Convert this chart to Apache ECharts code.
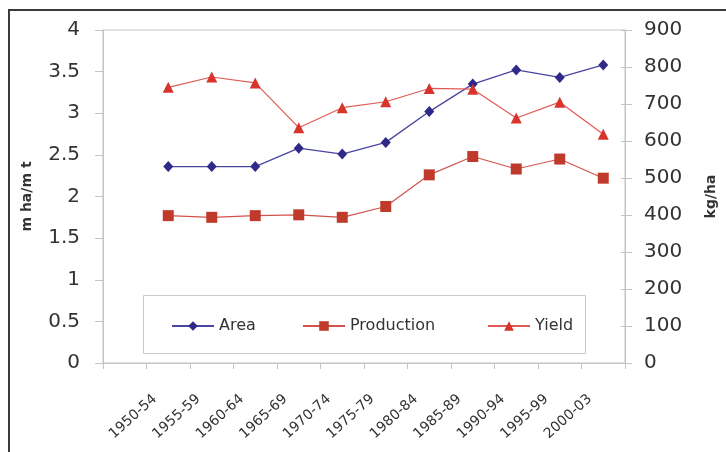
<!DOCTYPE html>
<html>
<head>
<meta charset="utf-8">
<script src="https://cdn.jsdelivr.net/npm/echarts@6/dist/echarts.min.js"></script>
<style>
  html, body { margin: 0; padding: 0; background: #fff; }
  #chart { width: 726px; height: 452px; }
</style>
</head>
<body>
<div id="chart"></div>
<script>
// Five-year periods on the category axis
const periods = ['1950-54', '1955-59', '1960-64', '1965-69', '1970-74', '1975-79',
                 '1980-84', '1985-89', '1990-94', '1995-99', '2000-03'];
// Area (m ha) and production (m t), left axis
const area = [2.36, 2.36, 2.36, 2.58, 2.51, 2.65, 3.02, 3.35, 3.52, 3.43, 3.58];
const production = [1.77, 1.75, 1.77, 1.78, 1.75, 1.88, 2.26, 2.48, 2.33, 2.45, 2.22];
// Yield (kg/ha), right axis
const yieldKg = [745, 773, 757, 636, 690, 706, 742, 740, 662, 705, 618];

// Left and right axis ticks
const leftTicks = { min: 0, max: 4, interval: 0.5 };
const rightTicks = { min: 0, max: 900, interval: 100 };

// The axis starts with one empty slot before the first period
const categories = [''].concat(periods);
const withLead = arr => [null].concat(arr);

const FONT = 'DejaVu Sans';
const AXIS_GRAY = '#c4c4c4';
const TEXT = '#333333';

const chart = echarts.init(document.getElementById('chart'), null, { renderer: 'canvas' });

function legendAt(name, left) {
  return {
    data: [name],
    left: left,
    top: 313,
    itemWidth: 42,
    itemHeight: 12,
    itemGap: 0,
    textStyle: { fontFamily: FONT, fontSize: 16, color: TEXT },
    selectedMode: false
  };
}

chart.setOption({
  animation: false,
  backgroundColor: '#ffffff',
  grid: {
    left: 103, right: 95, top: 30, bottom: 89,
    show: true, borderColor: AXIS_GRAY, borderWidth: 1
  },
  graphic: [
    {
      type: 'rect', z: 0, silent: true,
      shape: { x: 9, y: 10, width: 760, height: 480 },
      style: { fill: 'none', stroke: '#3a3a3a', lineWidth: 2 }
    },
    {
      type: 'rect', z: 1, silent: true,
      shape: { x: 143.5, y: 295.5, width: 442, height: 58 },
      style: { fill: '#ffffff', stroke: '#c8c8c8', lineWidth: 1 }
    }
  ],
  legend: [
    legendAt('Area', 166),
    legendAt('Production', 297),
    legendAt('Yield', 482)
  ],
  xAxis: {
    type: 'category',
    data: categories,
    boundaryGap: true,
    axisLine: { lineStyle: { color: AXIS_GRAY, width: 1 } },
    axisTick: { show: true, length: 6, lineStyle: { color: AXIS_GRAY } },
    axisLabel: {
      interval: 0, rotate: 42, margin: 22,
      padding: [0, 18, 0, 0],
      fontFamily: FONT, fontSize: 14, color: TEXT
    },
    splitLine: { show: false }
  },
  yAxis: [
    {
      type: 'value', position: 'left',
      min: leftTicks.min, max: leftTicks.max, interval: leftTicks.interval,
      name: 'm ha/m t', nameLocation: 'middle', nameRotate: 90, nameGap: 69,
      nameTextStyle: { fontFamily: FONT, fontSize: 14, fontWeight: 'bold', color: TEXT },
      axisLine: { show: true, lineStyle: { color: AXIS_GRAY } },
      axisTick: { show: true, length: 8, lineStyle: { color: AXIS_GRAY } },
      axisLabel: { margin: 23, fontFamily: FONT, fontSize: 20, color: TEXT },
      splitLine: { show: false }
    },
    {
      type: 'value', position: 'right',
      min: rightTicks.min, max: rightTicks.max, interval: rightTicks.interval,
      name: 'kg/ha', nameLocation: 'middle', nameRotate: 90, nameGap: 79,
      nameTextStyle: { fontFamily: FONT, fontSize: 14, fontWeight: 'bold', color: TEXT },
      axisLine: { show: true, lineStyle: { color: AXIS_GRAY } },
      axisTick: { show: true, length: 7, lineStyle: { color: AXIS_GRAY } },
      axisLabel: { margin: 19, fontFamily: FONT, fontSize: 20, color: TEXT },
      splitLine: { show: false }
    },
    {
      // inner half of the crossing ticks on the right axis
      type: 'value', position: 'right',
      min: rightTicks.min, max: rightTicks.max, interval: rightTicks.interval,
      axisLine: { show: false },
      axisTick: { show: true, inside: true, length: 4, lineStyle: { color: AXIS_GRAY } },
      axisLabel: { show: false },
      splitLine: { show: false }
    }
  ],
  series: [
    {
      name: 'Area', type: 'line', yAxisIndex: 0,
      data: withLead(area),
      symbol: 'diamond', symbolSize: [10, 11],
      itemStyle: { color: '#2f2a88' },
      lineStyle: { color: '#4a46a0', width: 1.3 }
    },
    {
      name: 'Production', type: 'line', yAxisIndex: 0,
      data: withLead(production),
      symbol: 'rect', symbolSize: 11,
      itemStyle: { color: '#c03a2c' },
      lineStyle: { color: '#d0544c', width: 1.2 }
    },
    {
      name: 'Yield', type: 'line', yAxisIndex: 1,
      data: withLead(yieldKg),
      symbol: 'triangle', symbolSize: 11,
      itemStyle: { color: '#d8342c' },
      lineStyle: { color: '#e05a55', width: 1.2 }
    }
  ]
});
</script>
</body>
</html>
